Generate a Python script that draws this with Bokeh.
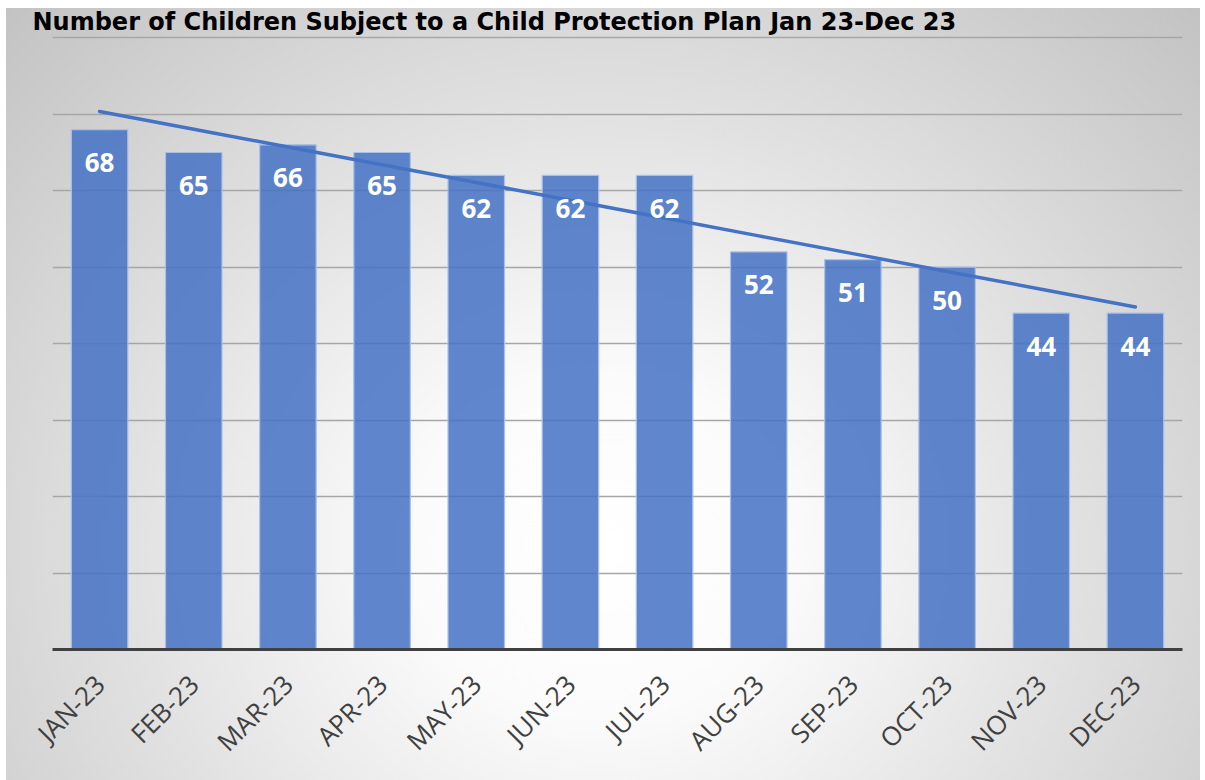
import numpy as np
from math import pi
from bokeh.plotting import figure
from bokeh.models import ColumnDataSource, LabelSet, Range1d, FactorRange
from bokeh.core.properties import value
from bokeh.embed import file_html
from bokeh.resources import INLINE

title_text = "Number of Children Subject to a Child Protection Plan Jan 23-Dec 23"
months = ["JAN-23", "FEB-23", "MAR-23", "APR-23", "MAY-23", "JUN-23",
          "JUL-23", "AUG-23", "SEP-23", "OCT-23", "NOV-23", "DEC-23"]
counts = [68, 65, 66, 65, 62, 62, 62, 52, 51, 50, 44, 44]

# linear trendline (least squares fit over the monthly values)
idx = np.arange(1, len(counts) + 1)
slope, intercept = np.polyfit(idx, counts, 1)
trend = list(slope * idx + intercept)

src = ColumnDataSource(dict(month=months, count=counts,
                            label=[str(c) for c in counts], trend=trend))

p = figure(x_range=FactorRange(*months, range_padding=0),
           y_range=Range1d(0, 80.3),
           width=1200, height=780,
           output_backend="svg", toolbar_location=None,
           min_border_left=52, min_border_right=18,
           min_border_top=35, min_border_bottom=131)

p.title.text = title_text
p.title.text_font = "DejaVu Sans"
p.title.text_font_size = "24px"
p.title.text_font_style = "bold"
p.title.text_color = "#000000"
p.title.align = "left"
p.title.offset = -20
p.title.standoff = 0

p.background_fill_alpha = 0
p.border_fill_alpha = 0
p.outline_line_color = None
p.styles = {"background": (
    "linear-gradient(#ffffff, #ffffff) top left / 100% 8px no-repeat, "
    "linear-gradient(#ffffff, #ffffff) top left / 6px 100% no-repeat, "
    "radial-gradient(ellipse at 50% 70%, #ffffff 0%, #fbfbfb 22%, #e2e2e2 55%, #c2c2c2 100%)")}

p.vbar(x="month", top="count", width=0.6, source=src,
       fill_color="#4472C4", fill_alpha=0.85,
       line_color="#a9c0e8", line_width=1.2)

p.line(x="month", y="trend", source=src, line_color="#4472C4",
       line_width=3.5, line_cap="round")

labels = LabelSet(x="month", y="count", text="label", source=src,
                  text_align="center", text_baseline="middle", y_offset=-33,
                  text_color="white", text_font=value("Open Sans"),
                  text_font_size="26px", text_font_style="bold")
p.add_layout(labels)

p.yaxis.visible = False
p.ygrid.grid_line_color = "#a6a6a6"
p.ygrid.grid_line_width = 1.5
p.ygrid.ticker = list(range(0, 81, 10))
p.xgrid.grid_line_color = None

xa = p.xaxis[0]
xa.axis_line_color = "#404040"
xa.axis_line_width = 3
xa.major_tick_line_color = None
xa.minor_tick_line_color = None
xa.major_label_orientation = pi / 4
xa.major_label_text_font = "Open Sans"
xa.major_label_text_font_size = "26px"
xa.major_label_text_color = "#404040"
xa.major_label_standoff = 24

open("out.html", "w").write(file_html(p, INLINE))
